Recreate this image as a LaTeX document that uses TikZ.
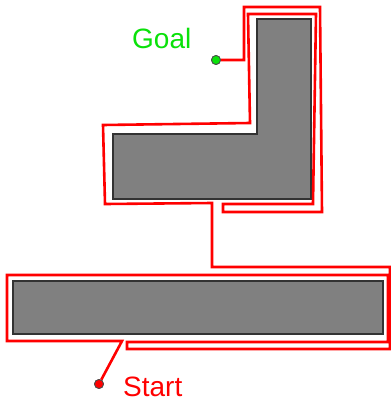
\documentclass[tikz,border=0pt]{standalone}
\usepackage{fontspec}
\setmainfont{Liberation Sans}
\definecolor{goalgreen}{RGB}{10,225,10}
\definecolor{obsgray}{RGB}{128,128,128}
\definecolor{routered}{RGB}{255,0,0}
\begin{document}
\begin{tikzpicture}[x=1pt,y=-1pt,
  obstacle/.style={fill=obsgray,draw=black!80,line width=1.2pt},
  route/.style={draw=routered,line width=2.6pt,line join=miter},
  dot/.style={circle,draw=black!70,line width=0.8pt,minimum size=9pt,inner sep=0pt},
  lbl/.style={font=\fontsize{28}{30}\selectfont,inner sep=0pt,anchor=base west}]
\useasboundingbox (0,0) rectangle (391,402);
% obstacles
\draw[obstacle] (113,134) -- (257,134) -- (257,19) -- (311,19) -- (311,199) -- (113,199) -- cycle;
\draw[obstacle] (13,281) rectangle (383,334);
% start and goal
\node[dot,fill=goalgreen] (goal) at (216,60) {};
\node[dot,fill=routered] (start) at (99,384) {};
% route
\draw[route] (start) -- (122,341) -- (7,341) -- (7,275) -- (388,275) -- (388,342)
  -- (127,342) -- (127,349) -- (390,349) -- (390,267) -- (212,267) -- (212,203)
  -- (105,204) -- (103,125) -- (250,123) -- (248,14) -- (316,14) -- (313,204)
  -- (223,204) -- (223,212) -- (322,212) -- (320,7) -- (244,7) -- (244,60) -- (goal);
\node[dot,fill=goalgreen] at (goal) {};
\node[dot,fill=routered] at (start) {};
% labels
\node[lbl,text=goalgreen] (goallbl) at (132,48) {Goal};
\node[lbl,text=routered] (startlbl) at (123,396.5) {Start};
\end{tikzpicture}
\end{document}
